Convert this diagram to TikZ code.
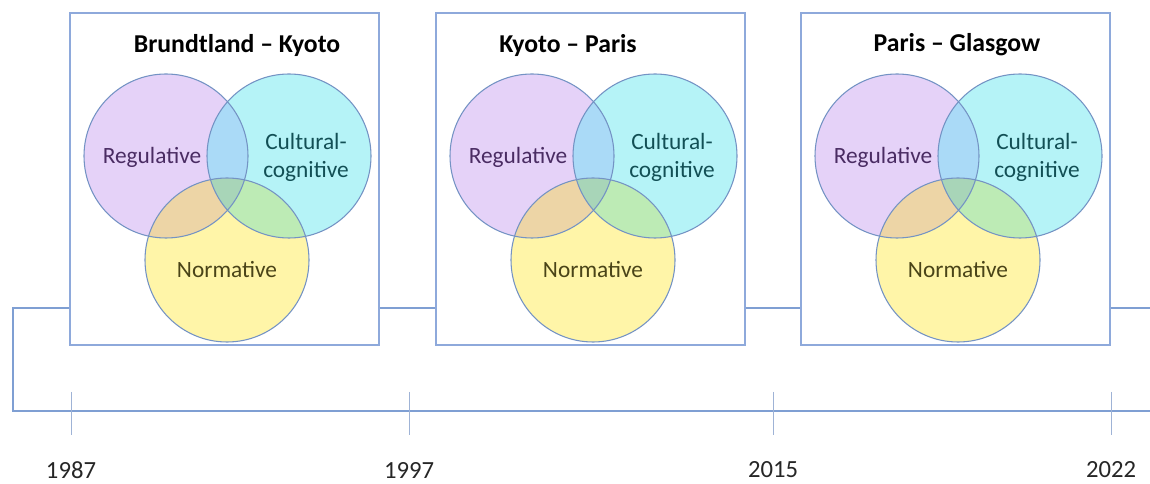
\documentclass[tikz,border=0pt]{standalone}
\usepackage{fontspec}
\setmainfont{Carlito}
\usetikzlibrary{positioning,calc}

\definecolor{boxblue}{HTML}{8EA9DB}
\definecolor{linkblue}{HTML}{7F9FD3}
\definecolor{tickblue}{HTML}{9FB3D6}
\definecolor{ringblue}{HTML}{7493C4}
\definecolor{regfill}{HTML}{E5D2F8}
\definecolor{cultfill}{HTML}{B5F3F7}
\definecolor{normfill}{HTML}{FFF5A8}
\definecolor{regcult}{HTML}{AADAF7}
\definecolor{regnorm}{HTML}{EDD5A6}
\definecolor{cultnorm}{HTML}{BDEBB5}
\definecolor{allthree}{HTML}{A8D5B8}
\definecolor{regtext}{HTML}{4A2C63}
\definecolor{culttext}{HTML}{124F55}
\definecolor{normtext}{HTML}{4A4418}

\tikzset{
  period/.style={draw=boxblue, line width=1.1pt, minimum width=231.75pt, minimum height=249pt, inner sep=0pt},
  pillar/.style={circle, minimum size=123pt, inner sep=0pt},
  ring/.style={draw=ringblue, line width=0.8pt},
  heading/.style={font=\fontsize{19.3}{22}\selectfont\bfseries, text=black},
  pillartext/.style={font=\fontsize{17.5}{20.5}\selectfont, align=center},
  link/.style={draw=linkblue, line width=1pt},
  tick/.style={draw=tickblue, line width=0.6pt},
  year/.style={font=\fontsize{18.5}{20}\selectfont, text=black!85}
}

\begin{document}
\begin{tikzpicture}[x=0.75pt,y=-0.75pt]
\useasboundingbox (0,0) rectangle (1150,484);

% three periods, each a box with a Venn diagram
\foreach \ox/\tx/\ttl [count=\i] in {70/237/{Brundtland – Kyoto},436/568/{Kyoto – Paris},801/957/{Paris – Glasgow}}{
  \node[period] (box\i) at (\ox+154.5,179) {};
  \node[heading] (ttl\i) at (\tx,45) {\ttl};
  \node[pillar, fill=regfill] (reg\i) at (\ox+96,156) {};
  \node[pillar, fill=cultfill] (cult\i) at (\ox+219,156) {};
  \node[pillar, fill=normfill] (norm\i) at (\ox+157,260) {};
  % overlaps
  \begin{scope}
    \clip (cult\i.center) circle[radius=61.5pt];
    \fill[cultnorm] (norm\i.center) circle[radius=61.5pt];
  \end{scope}
  \begin{scope}
    \clip (reg\i.center) circle[radius=61.5pt];
    \fill[regcult] (cult\i.center) circle[radius=61.5pt];
    \fill[regnorm] (norm\i.center) circle[radius=61.5pt];
    \clip (cult\i.center) circle[radius=61.5pt];
    \fill[allthree] (norm\i.center) circle[radius=61.5pt];
  \end{scope}
  \draw[ring] (reg\i.center) circle[radius=61.5pt];
  \draw[ring] (cult\i.center) circle[radius=61.5pt];
  \draw[ring] (norm\i.center) circle[radius=61.5pt];
  \node[pillartext, text=regtext] (regl\i) at (\ox+82,157) {Regulative};
  \node[pillartext, text=culttext] (cultl\i) at (\ox+236,157.5) {Cultural-\\cognitive};
  \node[pillartext, text=normtext] (norml\i) at (\ox+157,270) {Normative};
}

% links and timeline
\coordinate (lk) at (13,308);
\coordinate (lkend) at (1150,308);
\coordinate (tl) at (13,411);
\coordinate (tlend) at (1150,411);
\draw[link] (box1.west |- lk) -- (lk) -- (tl) -- (tlend);
\draw[link] (box1.east |- lk) -- (box2.west |- lk);
\draw[link] (box2.east |- lk) -- (box3.west |- lk);
\draw[link] (box3.east |- lk) -- (lkend);

% ticks and years
\foreach \yr/\px in {1987/71,1997/409,2015/773,2022/1111}{
  \coordinate (tt\yr) at (\px,392);
  \coordinate (tb\yr) at (\px,435);
  \draw[tick] (tt\yr) -- (tb\yr);
  \node[year] (y\yr) at (\px,470) {\yr};
}
\end{tikzpicture}
\end{document}
